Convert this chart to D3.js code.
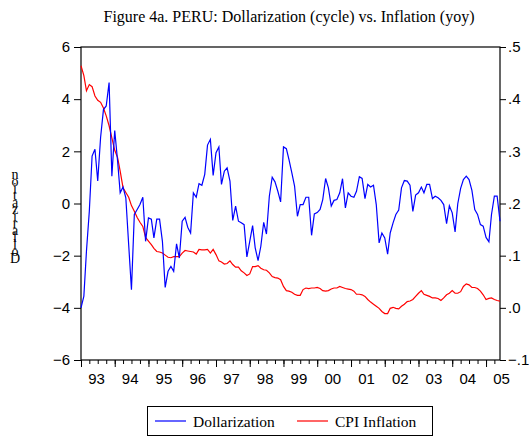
<!DOCTYPE html>
<html>
<head>
<meta charset="utf-8">
<script src="https://cdn.jsdelivr.net/npm/d3@7"></script>
<style>
  body { margin: 0; background: #fff; }
  .serif { font-family: "Liberation Serif", "Times New Roman", serif; }
  .sans { font-family: "Liberation Sans", Arial, sans-serif; }
</style>
</head>
<body>
<div id="chart"></div>
<script>
const width = 529;
const height = 440;
const margin = {left: 81, right: 29, top: 47, bottom: 80};

// monthly, 1993m1 .. 2005m6
const dollarization = [
  -4.0, -3.55, -1.83, -0.3, 1.82, 2.08, 0.86, 2.53, 3.6, 3.74, 4.64, 1.05,
  2.8, 1.63, 0.41, 0.63, 0.22, -1.58, -3.31, -0.42, -0.23, -0.04, 0.24, -1.45,
  -0.55, -0.6, -1.32, -0.6, -0.6, -1.45, -3.22, -2.6, -2.41, -2.6, -1.55, -2.09,
  -0.68, -0.53, -0.91, -1.13, 0.41, 0.24, 0.76, 0.7, 1.12, 2.24, 2.46, 1.08,
  1.95, 2.17, 0.73, 1.24, 1.37, 0.86, -0.65, -0.1, -0.68, -0.74, -0.81, -2.05,
  -1.45, -0.85, -1.7, -2.19, -1.64, -0.72, -1.17, 0.28, 1.01, 0.83, 0.47, 0.06,
  2.17, 2.1, 1.69, 1.18, 0.67, -0.49, -0.04, -0.04, 0.24, 0.24, -1.22, -0.4,
  -0.35, -0.23, 0.15, 0.96, 0.6, -0.1, 0.12, 0.15, 0.41, 0.95, -0.17, 0.41,
  0.28, 0.24, 0.47, 1.03, 0.96, 0.19, 0.73, 0.63, 0.7, -0.04, -1.51, -1.13,
  -1.32, -1.94, -1.13, -0.74, -0.42, -0.25, 0.6, 0.88, 0.86, 0.7, -0.3, 0.32,
  0.41, 0.63, 0.41, 0.73, 0.73, 0.19, 0.28, 0.22, 0.12, -0.04, -0.77, -0.09,
  -0.36, -1.09, -0.01, 0.58, 0.92, 1.05, 0.92, 0.5, -0.23, -0.42, -0.81, -0.87,
  -1.3, -1.47, -0.42, 0.28, 0.28, -0.68
];

const inflation = [
  0.464, 0.445, 0.416, 0.428, 0.424, 0.406, 0.398, 0.394, 0.383, 0.368, 0.349, 0.326,
  0.302, 0.288, 0.262, 0.230, 0.221, 0.212, 0.196, 0.185, 0.173, 0.164, 0.156, 0.135,
  0.128, 0.121, 0.114, 0.108, 0.107, 0.105, 0.101, 0.097, 0.096, 0.098, 0.098, 0.098,
  0.105, 0.110, 0.109, 0.108, 0.107, 0.103, 0.112, 0.111, 0.111, 0.112, 0.105, 0.112,
  0.102, 0.090, 0.088, 0.084, 0.085, 0.090, 0.083, 0.078, 0.078, 0.071, 0.067, 0.062,
  0.065, 0.079, 0.079, 0.081, 0.076, 0.073, 0.072, 0.067, 0.060, 0.058, 0.057, 0.054,
  0.041, 0.033, 0.032, 0.030, 0.026, 0.024, 0.024, 0.035, 0.038, 0.037, 0.038, 0.038,
  0.039, 0.037, 0.033, 0.032, 0.033, 0.036, 0.038, 0.038, 0.041, 0.039, 0.037, 0.036,
  0.035, 0.032, 0.026, 0.026, 0.025, 0.022, 0.016, 0.011, 0.007, 0.003, -0.001, -0.007,
  -0.011, -0.011, -0.001, 0.001, -0.001, -0.002, 0.003, 0.007, 0.012, 0.013, 0.016, 0.022,
  0.028, 0.033, 0.026, 0.024, 0.022, 0.019, 0.019, 0.018, 0.014, 0.019, 0.025, 0.028,
  0.033, 0.028, 0.028, 0.031, 0.041, 0.046, 0.044, 0.039, 0.039, 0.037, 0.032, 0.025,
  0.016, 0.018, 0.019, 0.016, 0.014, 0.013
];

const years = [1993, 1994, 1995, 1996, 1997, 1998, 1999, 2000, 2001, 2002, 2003, 2004, 2005];
const yearLabels = ['93', '94', '95', '96', '97', '98', '99', '00', '01', '02', '03', '04', '05'];
const leftTicks = [-6, -4, -2, 0, 2, 4, 6];
const rightTicks = [-0.1, 0.0, 0.1, 0.2, 0.3, 0.4, 0.5];

const months = dollarization.map((d, i) => new Date(Date.UTC(1993, i, 1)));

const svg = d3.select('#chart')
  .append('svg')
  .attr('width', width)
  .attr('height', height);

const x = d3.scaleUtc()
  .domain([months[0], months[months.length - 1]])
  .range([margin.left, width - margin.right]);

const yL = d3.scaleLinear()
  .domain([-6, 6])
  .range([height - margin.bottom, margin.top]);

const yR = d3.scaleLinear()
  .domain([-0.1, 0.5])
  .range([height - margin.bottom, margin.top]);

// title
svg.append('text')
  .attr('class', 'serif')
  .attr('x', 289)
  .attr('y', 22)
  .attr('text-anchor', 'middle')
  .style('font-size', '16px')
  .text('Figure 4a. PERU: Dollarization (cycle) vs. Inflation (yoy)');

// left axis
svg.append('g')
  .attr('class', 'sans')
  .attr('transform', 'translate(' + margin.left + ',0)')
  .call(d3.axisLeft(yL).tickValues(leftTicks).tickSize(7).tickPadding(4).tickFormat(d3.format('d')))
  .call(g => g.select('.domain').remove())
  .style('font-size', '15px');

// right axis
const fmtR = d => d3.format('.1f')(d).replace('0.', '.');
svg.append('g')
  .attr('class', 'sans')
  .attr('transform', 'translate(' + (width - margin.right) + ',0)')
  .call(d3.axisRight(yR).tickValues(rightTicks).tickSize(6).tickPadding(2).tickFormat(fmtR))
  .call(g => g.select('.domain').remove())
  .style('font-size', '15px');

// x axis: quarterly minor ticks, yearly major ticks, labels mid-year
const quarters = d3.utcMonth.every(3).range(months[0], months[months.length - 1]);
svg.append('g')
  .attr('transform', 'translate(0,' + (height - margin.bottom) + ')')
  .call(d3.axisBottom(x).tickValues(quarters).tickSize(4).tickFormat(''))
  .call(g => g.select('.domain').remove());

svg.append('g')
  .attr('transform', 'translate(0,' + (height - margin.bottom) + ')')
  .call(d3.axisBottom(x).tickValues(years.map(y => new Date(Date.UTC(y, 0, 1)))).tickSize(7).tickFormat(''))
  .call(g => g.select('.domain').remove());

svg.append('g')
  .attr('class', 'sans')
  .attr('transform', 'translate(0,' + (height - margin.bottom) + ')')
  .call(d3.axisBottom(x)
    .tickValues(years.map(y => new Date(Date.UTC(y, 5, 12))))
    .tickSize(0)
    .tickPadding(13)
    .tickFormat((d, i) => yearLabels[i]))
  .call(g => g.select('.domain').remove())
  .style('font-size', '15px');

// frame
svg.append('rect')
  .attr('x', margin.left)
  .attr('y', margin.top)
  .attr('width', width - margin.left - margin.right)
  .attr('height', height - margin.top - margin.bottom)
  .attr('fill', 'none')
  .attr('stroke', '#000')
  .attr('stroke-width', 1.2);

// lines
const lineL = d3.line().x((d, i) => x(months[i])).y(d => yL(d));
const lineR = d3.line().x((d, i) => x(months[i])).y(d => yR(d));

svg.append('path')
  .datum(inflation)
  .attr('d', lineR)
  .attr('fill', 'none')
  .attr('stroke', '#ff0000')
  .attr('stroke-width', 1.2);

svg.append('path')
  .datum(dollarization)
  .attr('d', lineL)
  .attr('fill', 'none')
  .attr('stroke', '#0000ff')
  .attr('stroke-width', 1.2);

// y label: one text, letters stacked bottom to top (as in the original)
const ylab = svg.append('text')
  .attr('class', 'serif')
  .attr('text-anchor', 'middle')
  .style('font-size', '14px');
ylab.selectAll('tspan')
  .data('Dollarization'.split(''))
  .enter()
  .append('tspan')
  .attr('x', 15)
  .attr('y', (d, i) => 263 - i * 7)
  .text(d => d);

// legend
const legend = svg.append('g').attr('class', 'serif');
legend.append('rect')
  .attr('x', 147.5).attr('y', 406.5)
  .attr('width', 285).attr('height', 29)
  .attr('fill', 'none').attr('stroke', '#000');

const legendItems = [
  {name: 'Dollarization', color: '#0000ff', x: 155},
  {name: 'CPI Inflation', color: '#ff0000', x: 297}
];
legendItems.forEach(it => {
  legend.append('line')
    .attr('x1', it.x).attr('x2', it.x + 31)
    .attr('y1', 421).attr('y2', 421)
    .attr('stroke', it.color).attr('stroke-width', 1.2);
  legend.append('text')
    .attr('x', it.x + 38).attr('y', 426.5)
    .style('font-size', '15.5px')
    .text(it.name);
});
</script>
</body>
</html>
